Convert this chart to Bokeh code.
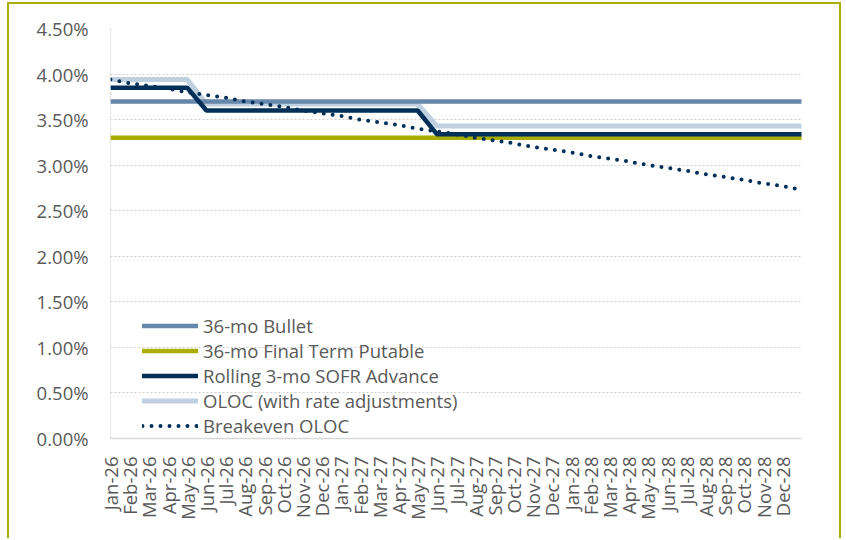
import math
from bokeh.plotting import figure
from bokeh.models import FixedTicker, PrintfTickFormatter, Legend, LegendItem, Range1d
from bokeh.embed import file_html
from bokeh.resources import INLINE

# 37 monthly points (Jan-26 .. Jan-29); last point carries no tick label
months = ["Jan-26", "Feb-26", "Mar-26", "Apr-26", "May-26", "Jun-26", "Jul-26", "Aug-26",
          "Sep-26", "Oct-26", "Nov-26", "Dec-26", "Jan-27", "Feb-27", "Mar-27", "Apr-27",
          "May-27", "Jun-27", "Jul-27", "Aug-27", "Sep-27", "Oct-27", "Nov-27", "Dec-27",
          "Jan-28", "Feb-28", "Mar-28", "Apr-28", "May-28", "Jun-28", "Jul-28", "Aug-28",
          "Sep-28", "Oct-28", "Nov-28", "Dec-28", ""]

bullet = [3.70, 3.70, 3.70, 3.70, 3.70, 3.70, 3.70, 3.70, 3.70, 3.70, 3.70, 3.70, 3.70,
          3.70, 3.70, 3.70, 3.70, 3.70, 3.70, 3.70, 3.70, 3.70, 3.70, 3.70, 3.70, 3.70,
          3.70, 3.70, 3.70, 3.70, 3.70, 3.70, 3.70, 3.70, 3.70, 3.70, 3.70]

putable = [3.30, 3.30, 3.30, 3.30, 3.30, 3.30, 3.30, 3.30, 3.30, 3.30, 3.30, 3.30, 3.30,
           3.30, 3.30, 3.30, 3.30, 3.30, 3.30, 3.30, 3.30, 3.30, 3.30, 3.30, 3.30, 3.30,
           3.30, 3.30, 3.30, 3.30, 3.30, 3.30, 3.30, 3.30, 3.30, 3.30, 3.30]

rolling = [3.85, 3.85, 3.85, 3.85, 3.85, 3.60, 3.60, 3.60, 3.60, 3.60, 3.60, 3.60, 3.60,
           3.60, 3.60, 3.60, 3.60, 3.34, 3.34, 3.34, 3.34, 3.34, 3.34, 3.34, 3.34, 3.34,
           3.34, 3.34, 3.34, 3.34, 3.34, 3.34, 3.34, 3.34, 3.34, 3.34, 3.34]

oloc = [3.94, 3.94, 3.94, 3.94, 3.94, 3.67, 3.67, 3.67, 3.67, 3.67, 3.67, 3.67, 3.67,
        3.67, 3.67, 3.67, 3.67, 3.43, 3.43, 3.43, 3.43, 3.43, 3.43, 3.43, 3.43, 3.43,
        3.43, 3.43, 3.43, 3.43, 3.43, 3.43, 3.43, 3.43, 3.43, 3.43, 3.43]

breakeven = [3.94, 3.90, 3.87, 3.84, 3.80, 3.77, 3.74, 3.70, 3.67, 3.64, 3.60, 3.57, 3.54,
             3.50, 3.47, 3.44, 3.40, 3.37, 3.34, 3.30, 3.27, 3.24, 3.20, 3.17, 3.14, 3.10,
             3.07, 3.04, 3.00, 2.97, 2.94, 2.90, 2.87, 2.84, 2.80, 2.77, 2.73]

y_ticks = [0.0, 0.5, 1.0, 1.5, 2.0, 2.5, 3.0, 3.5, 4.0, 4.5]

x = list(range(len(months)))

FONT = "Open Sans"
TXT = "#595959"
OLIVE = "#a9ae00"

p = figure(width=834, height=536, output_backend="svg", toolbar_location=None,
           x_range=Range1d(0, len(months) - 1), y_range=Range1d(0, 4.5),
           min_border_left=101, min_border_right=42, min_border_top=24, min_border_bottom=102,
           styles={"margin-left": "7px", "margin-top": "2px",
                   "border-left": f"2px solid {OLIVE}",
                   "border-top": f"2px solid {OLIVE}",
                   "border-right": f"2px solid {OLIVE}"})
p.outline_line_color = None
p.background_fill_color = "white"
p.border_fill_color = "white"

# grid
p.xgrid.visible = False
p.ygrid.ticker = FixedTicker(ticks=y_ticks)
p.ygrid.grid_line_color = "#cfcfcf"
p.ygrid.grid_line_dash = "2 2"

# y axis
p.yaxis.ticker = FixedTicker(ticks=y_ticks)
p.yaxis.formatter = PrintfTickFormatter(format="%.2f%%")
p.yaxis.axis_line_color = "#cfcfcf"
p.yaxis.axis_line_dash = "2 2"
p.yaxis.major_tick_line_color = None
p.yaxis.minor_tick_line_color = None
p.yaxis.major_label_text_font = FONT
p.yaxis.major_label_text_font_size = "18.5px"
p.yaxis.major_label_text_color = TXT
p.yaxis.major_label_standoff = 16

# x axis
p.xaxis.ticker = FixedTicker(ticks=x[:-1])
p.xaxis.major_label_overrides = {i: m for i, m in enumerate(months) if m}
p.xaxis.major_label_orientation = math.pi / 2
p.xaxis.axis_line_color = "#d9d9d9"
p.xaxis.axis_line_width = 1.5
p.xaxis.major_tick_line_color = None
p.xaxis.minor_tick_line_color = None
p.xaxis.major_label_text_font = FONT
p.xaxis.major_label_text_font_size = "18.5px"
p.xaxis.major_label_text_color = TXT
p.xaxis.major_label_standoff = 12

r_oloc = p.line(x, oloc, line_color="#bfd1e0", line_width=5, line_cap="round")
r_bullet = p.line(x, bullet, line_color="#6787aa", line_width=4.5, line_cap="round")
r_put = p.line(x, putable, line_color=OLIVE, line_width=4.5, line_cap="round")
r_roll = p.line(x, rolling, line_color="#003057", line_width=4.5, line_cap="round")
r_be = p.line(x, breakeven, line_color="#003057", line_width=4, line_cap="round",
              line_dash="0 9")

legend = Legend(items=[
    LegendItem(label="36-mo Bullet", renderers=[r_bullet]),
    LegendItem(label="36-mo Final Term Putable", renderers=[r_put]),
    LegendItem(label="Rolling 3-mo SOFR Advance", renderers=[r_roll]),
    LegendItem(label="OLOC (with rate adjustments)", renderers=[r_oloc]),
    LegendItem(label="Breakeven OLOC", renderers=[r_be]),
], location=(32, 0), glyph_width=56, glyph_height=25, label_height=25, spacing=0,
    padding=0, margin=0, label_standoff=5, background_fill_alpha=0, border_line_alpha=0,
    label_text_font=FONT, label_text_font_size="18.5px", label_text_color=TXT)
p.add_layout(legend)

open("out.html", "w").write(file_html(p, INLINE))
